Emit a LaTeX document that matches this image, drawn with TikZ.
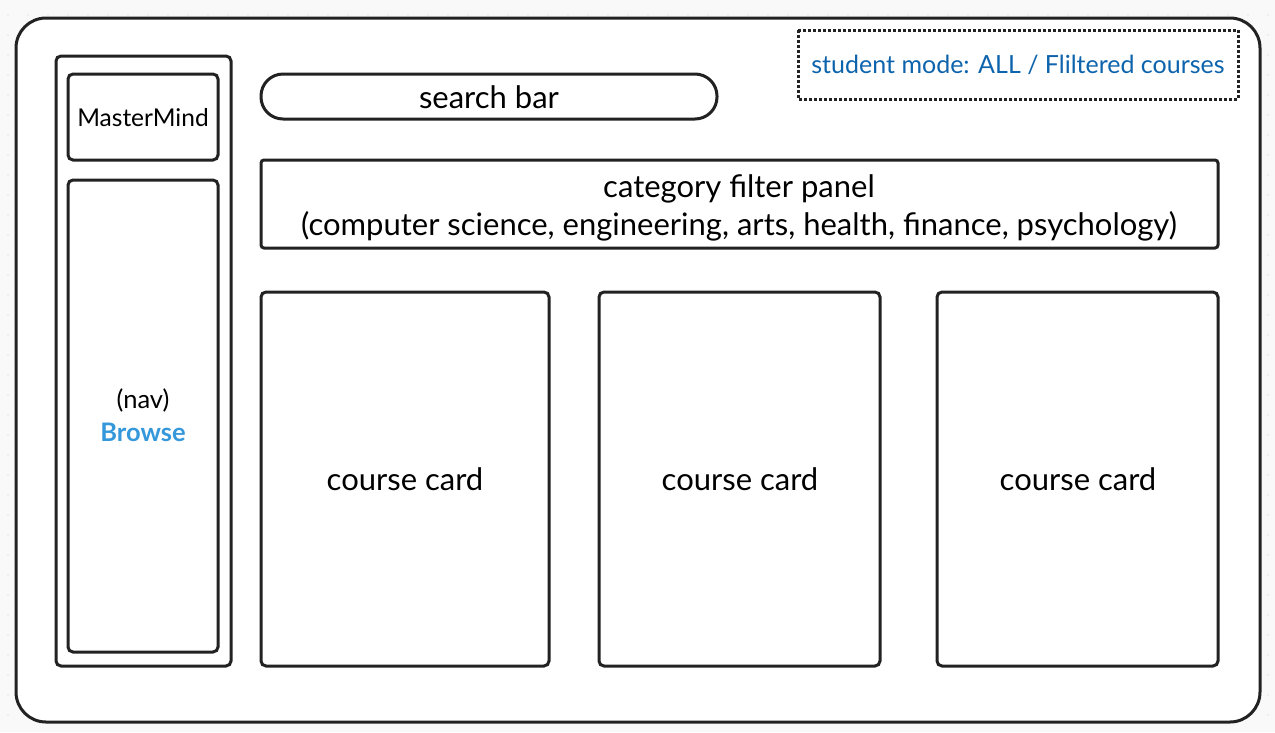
\documentclass[tikz,border=0pt]{standalone}
\usepackage{fontspec}
\setmainfont{Lato}
\definecolor{pagebg}{HTML}{F9F9F9}
\definecolor{ink}{HTML}{222222}
\definecolor{modeblue}{HTML}{0E64AC}
\definecolor{navblue}{HTML}{3498DB}
\definecolor{dotgray}{HTML}{E4E4E4}
\begin{document}
\begin{tikzpicture}[x=1pt,y=-1pt,
  frame/.style={draw=ink,line width=3pt,fill=white,rounded corners=5pt},
  lbl/.style={font=\fontsize{31}{38}\selectfont,text=black,align=center},
  small/.style={font=\fontsize{25.5}{30}\selectfont,text=black,align=center}]
  % page and faint dot grid
  \fill[pagebg] (0,0) rectangle (1275,732);
  \useasboundingbox (0,0) rectangle (1275,732);
  \foreach \gx in {8,28,...,1275} \foreach \gy in {15,35,...,732}
    \fill[dotgray] (\gx,\gy) circle (0.9);
  % outer window
  \draw[frame,rounded corners=30pt] (16,18) rectangle (1260,722);
  % sidebar
  \draw[frame] (56,56) rectangle (231,666);
  \draw[frame] (68,74) rectangle (218,160);
  \node[font=\fontsize{24.5}{29}\selectfont] (brand) at (143,118) {MasterMind};
  \draw[frame] (68,180) rectangle (218,652);
  \node[small] (nav) at (143,400) {(nav)};
  \node[font=\fontsize{25.5}{30}\selectfont\bfseries,text=navblue] (browse) at (143,432) {Browse};
  % search bar
  \draw[frame,rounded corners=22pt] (261,74) rectangle (717,119);
  \node[lbl] (search) at (489,97) {search bar};
  % mode indicator
  \draw[ink,line width=3pt,dotted,fill=white] (798,30) rectangle (1238,99);
  \node[font=\fontsize{25}{30}\selectfont,text=modeblue] (mode) at (1018,65) {student mode: ALL / Fliltered courses};
  % category filter panel
  \draw[frame,rounded corners=3pt] (261,160) rectangle (1218,248);
  \node[lbl] (cat) at (739,207.5) {category filter panel\\(computer science, engineering, arts, health, finance, psychology)};
  % course cards
  \draw[frame] (261,292) rectangle (549,666);
  \node[lbl] (c1) at (405,479) {course card};
  \draw[frame] (599,292) rectangle (880,666);
  \node[lbl] (c2) at (740,479) {course card};
  \draw[frame] (937,292) rectangle (1218,666);
  \node[lbl] (c3) at (1078,479) {course card};
\end{tikzpicture}
\end{document}
